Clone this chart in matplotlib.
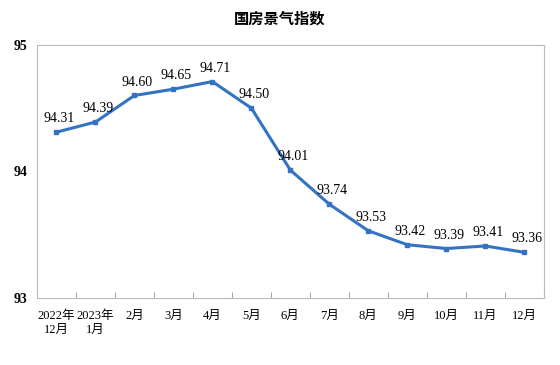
import numpy as np
import matplotlib
matplotlib.use("Agg")
import matplotlib.pyplot as plt

plt.rcParams['font.family'] = ['Liberation Serif', 'Noto Sans CJK SC']

# data
categories = ['2022年\n12月', '2023年\n1月', '2月', '3月', '4月', '5月', '6月',
              '7月', '8月', '9月', '10月', '11月', '12月']
values = [94.31, 94.39, 94.60, 94.65, 94.71, 94.50, 94.01,
          93.74, 93.53, 93.42, 93.39, 93.41, 93.36]
yticks = [93, 94, 95]

fig = plt.figure(figsize=(5.6, 3.65), dpi=100)
ax = fig.add_axes([0.066, 0.184, 0.905, 0.693])

x = np.arange(len(values))
ax.plot(x, values, color='#3373c4', linewidth=2.2, marker='s', markersize=3.5)

for xi, v in zip(x, values):
    ax.annotate(f'{v:.2f}', (xi, v), textcoords='offset points', xytext=(2, 5),
                ha='center', va='bottom', fontsize=10)

ax.set_xlim(-0.5, len(values) - 0.5)
ax.set_ylim(93, 95)
ax.set_yticks(yticks)
ax.set_yticklabels([str(t) for t in yticks], fontsize=10, fontweight='bold')
ax.tick_params(axis='y', length=0, pad=7)

ax.set_xticks(x + 0.5, minor=False)
ax.set_xticklabels([])
ax.set_xticks(x, minor=True)
ax.set_xticklabels(categories, minor=True, fontsize=9, linespacing=1.15)
ax.tick_params(axis='x', which='major', direction='in', length=4, color='#aaaaaa')
ax.tick_params(axis='x', which='minor', length=0, pad=9)

for s in ax.spines.values():
    s.set_color('#bbbbbb')
    s.set_linewidth(0.8)

fig.text(0.5, 0.95, '国房景气指数', ha='center', va='center', fontsize=11,
         fontweight='bold', family=['Noto Sans CJK SC', 'DejaVu Sans'])

fig.savefig('out.png', dpi=100)
